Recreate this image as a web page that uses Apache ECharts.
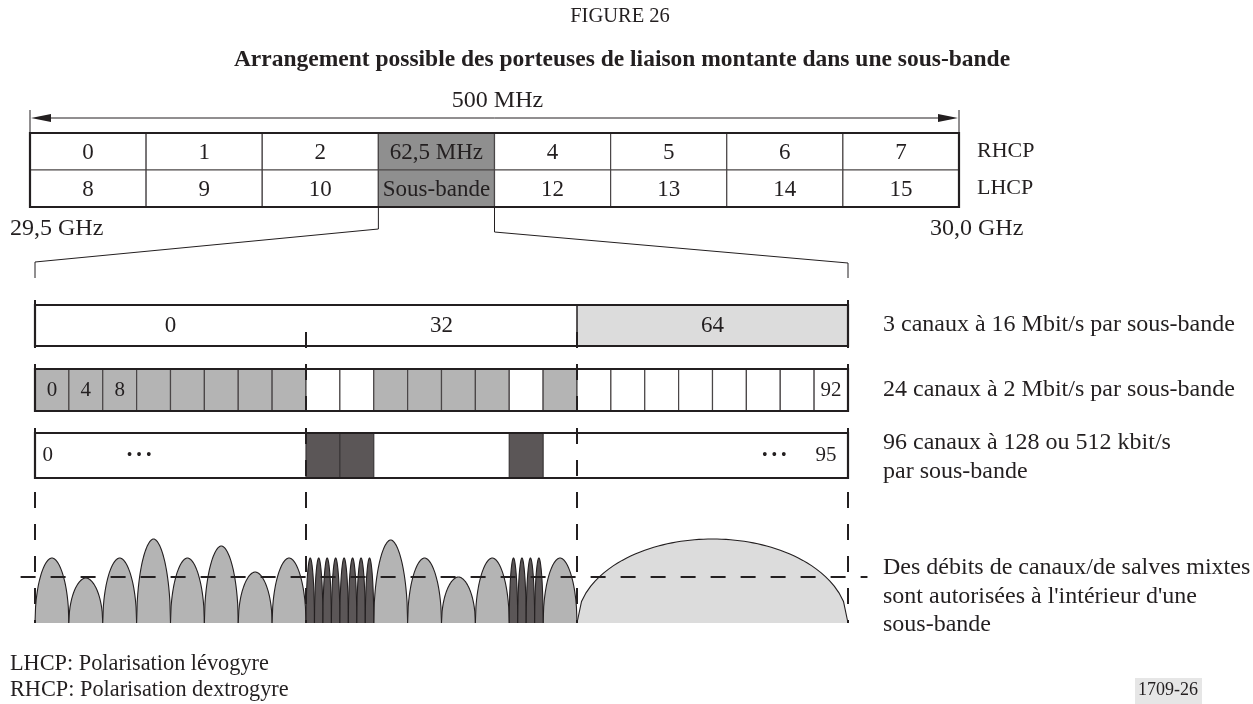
<!DOCTYPE html>
<html><head><meta charset="utf-8">
<script src="https://cdn.jsdelivr.net/npm/echarts@6/dist/echarts.min.js"></script>
<style>html,body{margin:0;padding:0;background:#fff}#c{width:1253px;height:704px}</style>
</head><body><div id="c"></div>
<script>
// ---------------- data ----------------
const bandMHz = 500;
const subbandMHz = 62.5;
const polarisations = ['RHCP', 'LHCP'];
const rhcpLabels = ['0', '1', '2', '62,5 MHz', '4', '5', '6', '7'];
const lhcpLabels = ['8', '9', '10', 'Sous-bande', '12', '13', '14', '15'];
const selectedSubband = 3;

// sub-band detail, unit = one 128 kbit/s channel (96 per sub-band)
const channelsPerSubband = 96;
const rate16Starts = [0, 32, 64];
const rate16Labels = ['0', '32', '64'];
const rate16Shaded = [0, 0, 1];
const rate2Shaded = [1,1,1,1,1,1,1,1, 0,0,1,1,1,1,0,1, 0,0,0,0,0,0,0,0];
const rate2Labels = ['0','4','8','','','','','', '','','','','','','','', '','','','','','','','92'];
const rate128DarkStarts = [32, 36, 56];
const rate128DarkWidths = [4, 4, 4];
const rate128Labels = ['0', '\u2022 \u2022 \u2022', '\u2022 \u2022 \u2022', '95'];

// spectrum (carrier start channel, width in channels, relative amplitude)
const carrier2Starts = [0, 4, 8, 12, 16, 20, 24, 28, 40, 44, 48, 52, 60];
const carrier2Heights = [65, 45, 65, 84, 65, 77, 51, 65, 83, 65, 46, 65, 65];
const carrier128Starts = [32, 33, 34, 35, 36, 37, 38, 39, 56, 57, 58, 59];
const carrier128Heights = [65, 65, 65, 65, 65, 65, 65, 65, 65, 65, 65, 65];
const carrier16Starts = [64];
const carrier16Heights = [84];
const referenceLevel = 46;

const rightNotes = [
  ['3 canaux à 16 Mbit/s par sous-bande'],
  ['24 canaux à 2 Mbit/s par sous-bande'],
  ['96 canaux à 128 ou 512 kbit/s', 'par sous-bande'],
  ['Des débits de canaux/de salves mixtes', "sont autorisées à l'intérieur d'une", 'sous-bande']
];
const legendLines = ['LHCP: Polarisation lévogyre', 'RHCP: Polarisation dextrogyre'];

// ---------------- layout / style ----------------
const FONT = '"Liberation Serif", "Times New Roman", serif';
const INK = '#231f20';
const GRAY_SEL = '#8f8f8f', GRAY2 = '#b4b4b4', GRAY16 = '#dcdcdc', DARK = '#5b5657';
const K = 813 / 96;
const xMinU = -1.8, xMaxU = 98.3;
const baselinePx = 623, subTopPx = 298;
const ROW_A = [277, 318], ROW_B = [212, 254], ROW_C = [145, 190];
const rowCLabelU = [1.5, 12.3, 87.3, 93.4];

const chart = echarts.init(document.getElementById('c'));

function txt(x, y, s, size, align, weight) {
  return { type: 'text', x: x, y: y, style: { text: s, fill: INK, font: (weight || 'normal') + ' ' + size + 'px ' + FONT, textAlign: align || 'center', textVerticalAlign: 'middle' } };
}

// top table
const tableData = [];
polarisations.forEach((p, r) => {
  const labs = r === 0 ? rhcpLabels : lhcpLabels;
  labs.forEach((l, i) => tableData.push([i * subbandMHz, (i + 1) * subbandMHz, r, l, i === selectedSubband ? 1 : 0]));
});

function renderTableCell(params, api) {
  const r = api.value(2);
  const c0 = api.coord([api.value(0), r]);
  const c1 = api.coord([api.value(1), r]);
  const h = api.size([0, 1])[1];
  return { type: 'group', children: [
    { type: 'rect', shape: { x: c0[0], y: c0[1] - h / 2, width: c1[0] - c0[0], height: h },
      style: { fill: api.value(4) ? GRAY_SEL : '#fff', stroke: '#4a4647', lineWidth: 1.2 } },
    txt((c0[0] + c1[0]) / 2, c0[1] + 1, tableData[params.dataIndex][3], 23)
  ]};
}
function renderTableFrame(params, api) {
  const a = api.coord([0, 0]), b = api.coord([bandMHz, 1]);
  const h = api.size([0, 1])[1];
  const top = a[1] - h / 2, bot = b[1] + h / 2;
  const x0 = a[0], x1 = b[0];
  return { type: 'group', children: [
    { type: 'rect', shape: { x: x0, y: top, width: x1 - x0, height: bot - top }, style: { fill: 'none', stroke: INK, lineWidth: 2.2 } },
    { type: 'line', shape: { x1: x0, y1: top - 23, x2: x0, y2: top }, style: { stroke: INK, lineWidth: 1 } },
    { type: 'line', shape: { x1: x1, y1: top - 23, x2: x1, y2: top }, style: { stroke: INK, lineWidth: 1 } },
    { type: 'line', shape: { x1: x0 + 18, y1: top - 15, x2: x1 - 18, y2: top - 15 }, style: { stroke: INK, lineWidth: 1 } },
    { type: 'polygon', shape: { points: [[x0 + 1, top - 15], [x0 + 21, top - 19], [x0 + 21, top - 11]] }, style: { fill: INK } },
    { type: 'polygon', shape: { points: [[x1 - 1, top - 15], [x1 - 21, top - 19], [x1 - 21, top - 11]] }, style: { fill: INK } },
    txt((x0 + x1) / 2 + 3, top - 32, '500 MHz', 24),
    txt(x0 - 20, bot + 22, '29,5 GHz', 24, 'left'),
    txt(x1 - 29, bot + 22, '30,0 GHz', 24, 'left')
  ]};
}

// rows
function rowRect(api, s, e, row) {
  const p0 = api.coord([s, row[1]]), p1 = api.coord([e, row[0]]);
  return { x: p0[0], y: p0[1], width: p1[0] - p0[0], height: p1[1] - p0[1] };
}
const rowAData = rate16Starts.map((s, i) => [s, i < rate16Starts.length - 1 ? rate16Starts[i + 1] : channelsPerSubband, rate16Shaded[i], i]);
function renderRowA(params, api) {
  const r = rowRect(api, api.value(0), api.value(1), ROW_A);
  const ch = [{ type: 'rect', shape: r, style: { fill: api.value(2) ? GRAY16 : '#fff' } },
    txt(r.x + r.width / 2, r.y + r.height / 2, rate16Labels[api.value(3)], 23)];
  if (api.value(2)) ch.push({ type: 'line', shape: { x1: r.x, y1: r.y, x2: r.x, y2: r.y + r.height }, style: { stroke: INK, lineWidth: 1.5 } });
  return { type: 'group', children: ch };
}
const rowBData = rate2Shaded.map((v, i) => [i * 4, i * 4 + 4, v, i]);
function renderRowB(params, api) {
  const r = rowRect(api, api.value(0), api.value(1), ROW_B);
  return { type: 'group', children: [
    { type: 'rect', shape: r, style: { fill: api.value(2) ? GRAY2 : '#fff', stroke: '#4a4647', lineWidth: 1.2 } },
    txt(r.x + r.width / 2, r.y + r.height / 2, rate2Labels[api.value(3)], 21)
  ]};
}
const rowCData = rate128DarkStarts.map((s, i) => [s, s + rate128DarkWidths[i]]);
function renderRowC(params, api) {
  const r = rowRect(api, api.value(0), api.value(1), ROW_C);
  return { type: 'rect', shape: r, style: { fill: DARK, stroke: '#3a3637', lineWidth: 1.2 } };
}
function renderFrames(params, api) {
  const ch = [];
  [ROW_A, ROW_B, ROW_C].forEach(row => {
    ch.push({ type: 'rect', shape: rowRect(api, 0, channelsPerSubband, row), style: { fill: 'none', stroke: INK, lineWidth: 2.2 } });
  });
  const mid = (ROW_C[0] + ROW_C[1]) / 2;
  rate128Labels.forEach((l, i) => {
    const p = api.coord([rowCLabelU[i], mid]);
    ch.push(txt(p[0], p[1], l, i === 0 || i === 3 ? 21 : 16));
  });
  return { type: 'group', children: ch };
}

// spectrum
const carriers = [];
carrier2Starts.forEach((s, i) => carriers.push([s, 4, carrier2Heights[i], 0]));
carrier128Starts.forEach((s, i) => carriers.push([s, 1, carrier128Heights[i], 1]));
carrier16Starts.forEach((s, i) => carriers.push([s, 32, carrier16Heights[i], 2]));
function renderCarrier(params, api) {
  const s = api.value(0), w = api.value(1), h = api.value(2), kind = api.value(3);
  const pw = kind === 2 ? 2 : 1.85;
  const pts = [];
  const N = 60;
  for (let k = 0; k <= N; k++) {
    const u = -1 + 2 * k / N;
    const y = h * Math.sqrt(Math.max(0, 1 - Math.pow(Math.abs(u), pw)));
    pts.push(api.coord([s + (u + 1) / 2 * w, y]));
  }
  const fill = [GRAY2, DARK, GRAY16][kind];
  return { type: 'group', children: [
    { type: 'polygon', shape: { points: pts }, style: { fill: fill } },
    { type: 'polyline', shape: { points: pts }, style: { fill: 'none', stroke: INK, lineWidth: 1.1 } }
  ]};
}
const boundaries = rate16Starts.concat([channelsPerSubband]);
function renderDashes(params, api) {
  const ch = [];
  boundaries.forEach(u => {
    const outer = (u === 0 || u === channelsPerSubband);
    const topY = outer ? 300 : 332;
    const p0 = api.coord([u, 0]);
    ch.push({ type: 'line', shape: { x1: p0[0], y1: topY, x2: p0[0], y2: p0[1] },
      style: { stroke: INK, lineWidth: 2, lineDash: [16, 16] } });
  });
  const a = api.coord([xMinU + 0.1, referenceLevel]), b = api.coord([xMaxU, referenceLevel]);
  ch.push({ type: 'line', shape: { x1: a[0], y1: a[1], x2: b[0], y2: b[1] }, style: { stroke: INK, lineWidth: 2, lineDash: [15, 15] } });
  return { type: 'group', children: ch };
}

const graphics = [
  txt(620, 17, 'FIGURE 26', 20.5),
  txt(622, 60, 'Arrangement possible des porteuses de liaison montante dans une sous-bande', 23.5, 'center', 'bold')
];
const noteY = [[325], [390], [443, 472], [568, 597, 625]];
rightNotes.forEach((lines, i) => lines.forEach((l, j) => graphics.push(txt(883, noteY[i][j], l, 24, 'left'))));
legendLines.forEach((l, i) => graphics.push(txt(10, 664 + 26 * i, l, 22.3, 'left')));
graphics.push({ type: 'rect', shape: { x: 1135, y: 678, width: 67, height: 26 }, style: { fill: '#e6e6e6' } });
graphics.push(txt(1168, 690, '1709-26', 18));

chart.setOption({
  animation: false,
  backgroundColor: '#fff',
  grid: [
    { left: 30, top: 133, width: 929, height: 74, containLabel: false },
    { left: 35 + xMinU * K, top: subTopPx, width: (xMaxU - xMinU) * K, height: baselinePx - subTopPx }
  ],
  xAxis: [
    { gridIndex: 0, type: 'value', min: 0, max: bandMHz, show: false },
    { gridIndex: 1, type: 'value', min: xMinU, max: xMaxU, show: false }
  ],
  yAxis: [
    { gridIndex: 0, type: 'category', data: polarisations, inverse: true, position: 'right',
      axisLine: { show: false }, axisTick: { show: false }, splitLine: { show: false },
      axisLabel: { margin: 18, fontSize: 22, fontFamily: FONT, color: INK } },
    { gridIndex: 1, type: 'value', min: 0, max: baselinePx - subTopPx, show: false }
  ],
  graphic: graphics,
  series: [
    { type: 'custom', xAxisIndex: 0, yAxisIndex: 0, data: tableData, renderItem: renderTableCell, clip: false, z: 2 },
    { type: 'custom', xAxisIndex: 0, yAxisIndex: 0, data: [[0, 0]], renderItem: renderTableFrame, clip: false, z: 3 },
    { type: 'custom', xAxisIndex: 1, yAxisIndex: 1, data: rowAData, renderItem: renderRowA, clip: false, z: 2 },
    { type: 'custom', xAxisIndex: 1, yAxisIndex: 1, data: rowBData, renderItem: renderRowB, clip: false, z: 2 },
    { type: 'custom', xAxisIndex: 1, yAxisIndex: 1, data: rowCData, renderItem: renderRowC, clip: false, z: 2 },
    { type: 'custom', xAxisIndex: 1, yAxisIndex: 1, data: [[0, 0]], renderItem: renderFrames, clip: false, z: 3 },
    { type: 'custom', xAxisIndex: 1, yAxisIndex: 1, data: carriers, renderItem: renderCarrier, clip: false, z: 2 },
    { type: 'custom', xAxisIndex: 1, yAxisIndex: 1, data: [[0, 0]], renderItem: renderDashes, clip: false, z: 4 }
  ]
});

// zoom connector lines (from selected sub-band to the detail)
const xs = chart.convertToPixel({ gridIndex: 0 }, [selectedSubband * subbandMHz, 0])[0];
const xe = chart.convertToPixel({ gridIndex: 0 }, [(selectedSubband + 1) * subbandMHz, 0])[0];
const d0 = chart.convertToPixel({ gridIndex: 1 }, [0, 0])[0];
const d1 = chart.convertToPixel({ gridIndex: 1 }, [channelsPerSubband, 0])[0];
graphics.push({ type: 'polyline', shape: { points: [[xs, 207], [xs, 229], [d0, 262], [d0, 278]] }, style: { fill: 'none', stroke: INK, lineWidth: 1 } });
graphics.push({ type: 'polyline', shape: { points: [[xe, 207], [xe, 232], [d1, 263], [d1, 278]] }, style: { fill: 'none', stroke: INK, lineWidth: 1 } });
chart.setOption({ graphic: graphics });
</script>
</body></html>
